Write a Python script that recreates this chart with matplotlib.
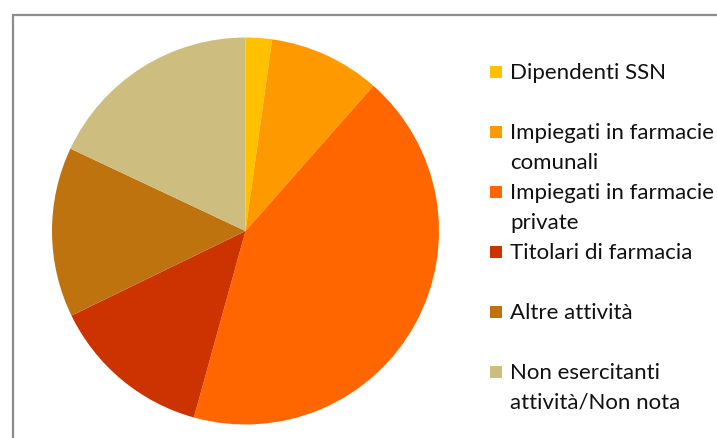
import matplotlib
matplotlib.use("Agg")
import matplotlib.pyplot as plt
from matplotlib.patches import Rectangle

categories = ["Dipendenti SSN", "Impiegati in farmacie\ncomunali", "Impiegati in farmacie\nprivate",
              "Titolari di farmacia", "Altre attività", "Non esercitanti\nattività/Non nota"]
values = [2.2, 9.3, 42.8, 13.5, 14.2, 18.0]
colors = ["#FFC000", "#FF9900", "#FF6600", "#CC3300", "#BE730F", "#CDBE80"]

W, H = 717, 439
fig = plt.figure(figsize=(W / 100, H / 100), dpi=100)

# border
fig.patches.append(Rectangle((13 / W, -0.1), 1.2, (H - 16) / H + 0.1, transform=fig.transFigure,
                             fill=False, edgecolor="#8c8c8c", linewidth=1.6))

cx, cy, r = 245.5, 232, 193.5
ax = fig.add_axes([(cx - r) / W, (H - cy - r) / H, 2 * r / W, 2 * r / H])
ax.pie(values, colors=colors, startangle=90, counterclock=False, radius=1,
       wedgeprops=dict(linewidth=0))
ax.set_xlim(-1, 1)
ax.set_ylim(-1, 1)
ax.set_aspect("auto")
ax.axis("off")

y0, step, lh = 73, 60, 30
for i, (lab, col) in enumerate(zip(categories, colors)):
    yc = y0 + i * step
    fig.patches.append(Rectangle((490 / W, (H - yc - 6) / H), 12 / W, 12 / H,
                                 transform=fig.transFigure, facecolor=col, edgecolor="none"))
    for j, line in enumerate(lab.split("\n")):
        fig.text(510 / W, (H - (yc + 6 + j * lh)) / H, line, fontsize=16, family="Lato",
                 color="#111111", va="baseline", ha="left", transform=fig.transFigure)

fig.savefig("out.png", dpi=100)
